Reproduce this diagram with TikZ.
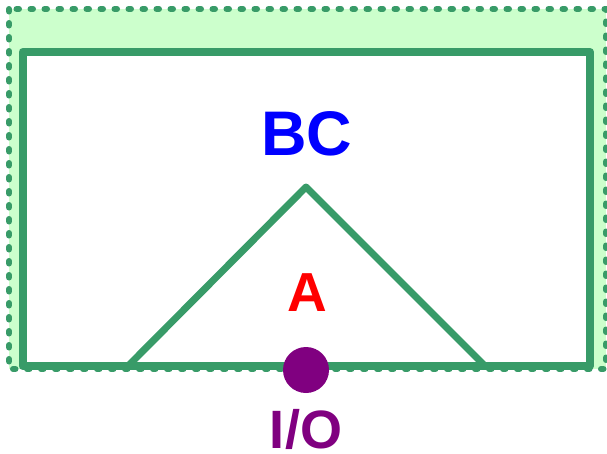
\documentclass[tikz,border=0pt]{standalone}
\usepackage{fontspec}
\setmainfont{Liberation Sans}
\definecolor{lgreen}{HTML}{389B68}
\definecolor{lfill}{HTML}{CCFFCC}
\definecolor{lpurple}{HTML}{800080}
\tikzset{
  outerbox/.style={draw=lgreen, fill=lfill, line width=6pt, line cap=round, dash pattern=on 2.5pt off 11.5pt},
  innerbox/.style={draw=lgreen, fill=white, line width=8pt, line join=round},
  tri/.style={draw=lgreen, line width=7pt, line join=round},
  lbl/.style={inner sep=0pt, anchor=base, font=\bfseries},
}
\begin{document}
\begin{tikzpicture}[x=1pt,y=-1pt]
\useasboundingbox (0,0) rectangle (607,453);
\draw[outerbox] (9,9) rectangle (606,369);
\draw[innerbox] (22.5,52) rectangle (590,366);
\draw[tri] (128,366) -- (306,187) -- (485,366);
\node[lbl, text=blue, font=\bfseries\fontsize{63}{63}\selectfont] (bc) at (307,155) {BC};
\node[lbl, text=red, font=\bfseries\fontsize{55}{55}\selectfont] (a) at (307,311) {A};
\node[circle, fill=lpurple, minimum size=46pt, inner sep=0pt] (io) at (306,370) {};
\node[lbl, text=lpurple, font=\bfseries\fontsize{54}{54}\selectfont] (iol) at (306,448) {I/O};
\end{tikzpicture}
\end{document}
